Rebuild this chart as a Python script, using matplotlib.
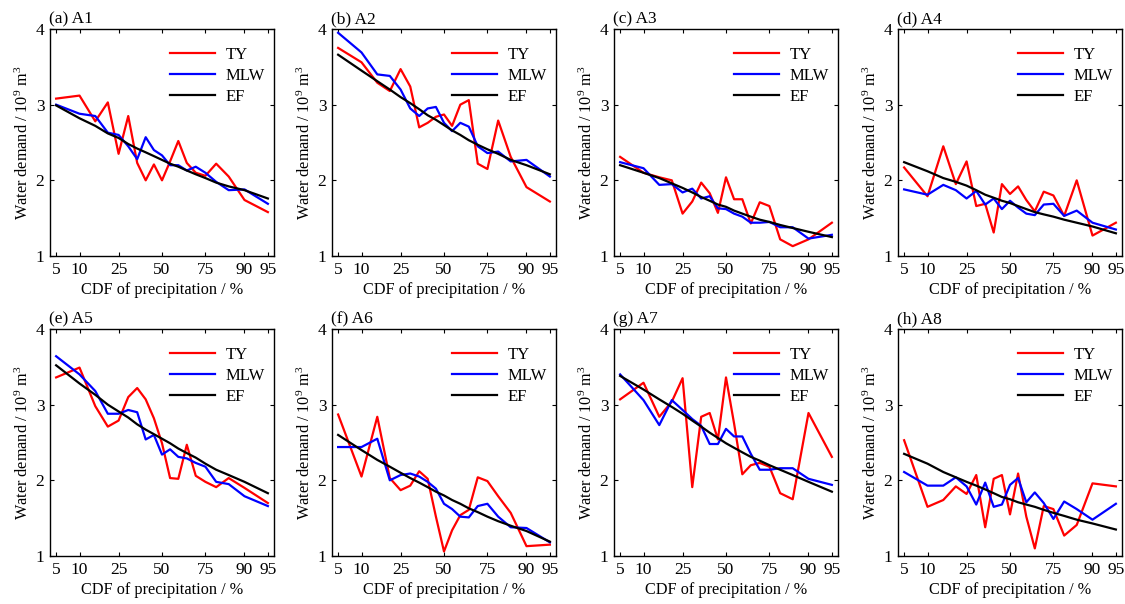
import matplotlib
matplotlib.use("Agg")
import matplotlib.pyplot as plt
import numpy as np
from statistics import NormalDist

plt.rcParams['font.family'] = ['Liberation Serif', 'DejaVu Serif']
plt.rcParams['mathtext.fontset'] = 'custom'
plt.rcParams['mathtext.rm'] = 'Liberation Serif'
plt.rcParams['mathtext.it'] = 'Liberation Serif:italic'

# CDF of precipitation (%)
cdf = [5, 10, 15, 20, 25, 30, 35, 40, 45, 50, 55, 60, 65, 70, 75, 80, 85, 90, 95]
tick_pct = [5, 10, 25, 50, 75, 90, 95]
titles = ["(a) A1", "(b) A2", "(c) A3", "(d) A4", "(e) A5", "(f) A6", "(g) A7", "(h) A8"]

ty = [
    [3.08, 3.12, 2.78, 3.03, 2.35, 2.85, 2.23, 2.00, 2.21, 2.00, 2.25, 2.52, 2.23, 2.10, 2.06, 2.22, 2.05, 1.74, 1.58],
    [3.75, 3.56, 3.29, 3.18, 3.47, 3.24, 2.70, 2.76, 2.84, 2.87, 2.72, 3.00, 3.06, 2.22, 2.15, 2.79, 2.31, 1.91, 1.72],
    [2.31, 2.10, 2.04, 2.00, 1.56, 1.72, 1.97, 1.83, 1.57, 2.04, 1.75, 1.75, 1.43, 1.71, 1.66, 1.22, 1.13, 1.22, 1.44],
    [2.17, 1.79, 2.45, 1.95, 2.25, 1.66, 1.69, 1.31, 1.95, 1.82, 1.92, 1.74, 1.59, 1.85, 1.80, 1.53, 2.00, 1.27, 1.44],
    [3.36, 3.49, 2.98, 2.71, 2.79, 3.10, 3.22, 3.07, 2.82, 2.49, 2.03, 2.02, 2.47, 2.06, 1.98, 1.91, 2.03, 1.90, 1.70],
    [2.87, 2.05, 2.84, 2.03, 1.87, 1.93, 2.12, 2.02, 1.52, 1.06, 1.34, 1.54, 1.61, 2.04, 1.99, 1.79, 1.57, 1.13, 1.15],
    [3.07, 3.29, 2.84, 3.04, 3.35, 1.91, 2.84, 2.89, 2.54, 3.36, 2.75, 2.08, 2.20, 2.23, 2.18, 1.83, 1.75, 2.89, 2.31],
    [2.53, 1.65, 1.74, 1.92, 1.82, 2.07, 1.38, 2.02, 2.07, 1.55, 2.09, 1.52, 1.10, 1.66, 1.62, 1.27, 1.41, 1.96, 1.92],
]

mlw = [
    [3.00, 2.88, 2.85, 2.63, 2.60, 2.45, 2.28, 2.57, 2.40, 2.33, 2.20, 2.20, 2.13, 2.18, 2.10, 1.98, 1.87, 1.88, 1.69],
    [3.95, 3.69, 3.40, 3.38, 3.20, 2.95, 2.85, 2.95, 2.97, 2.76, 2.65, 2.76, 2.71, 2.45, 2.36, 2.38, 2.25, 2.27, 2.05],
    [2.24, 2.16, 1.94, 1.95, 1.84, 1.89, 1.76, 1.79, 1.63, 1.62, 1.56, 1.52, 1.44, 1.44, 1.45, 1.38, 1.38, 1.23, 1.28],
    [1.88, 1.81, 1.94, 1.87, 1.76, 1.86, 1.68, 1.76, 1.62, 1.73, 1.64, 1.56, 1.54, 1.68, 1.69, 1.53, 1.60, 1.44, 1.35],
    [3.64, 3.40, 3.18, 2.88, 2.88, 2.93, 2.90, 2.54, 2.60, 2.34, 2.41, 2.31, 2.29, 2.23, 2.18, 1.98, 1.95, 1.79, 1.66],
    [2.44, 2.44, 2.55, 2.00, 2.07, 2.09, 2.05, 1.98, 1.89, 1.69, 1.62, 1.52, 1.51, 1.66, 1.69, 1.52, 1.38, 1.37, 1.18],
    [3.40, 3.06, 2.73, 3.06, 2.93, 2.81, 2.72, 2.48, 2.48, 2.68, 2.58, 2.58, 2.35, 2.14, 2.14, 2.16, 2.16, 2.02, 1.94],
    [2.11, 1.93, 1.93, 2.04, 1.92, 1.68, 1.97, 1.65, 1.68, 1.94, 2.03, 1.71, 1.84, 1.70, 1.49, 1.72, 1.62, 1.48, 1.69],
]

ef = [
    [2.99, 2.82, 2.72, 2.62, 2.56, 2.48, 2.42, 2.37, 2.32, 2.27, 2.22, 2.18, 2.13, 2.08, 2.03, 1.97, 1.92, 1.87, 1.76],
    [3.66, 3.45, 3.31, 3.20, 3.10, 3.02, 2.94, 2.86, 2.80, 2.73, 2.66, 2.60, 2.53, 2.47, 2.41, 2.35, 2.27, 2.20, 2.08],
    [2.20, 2.10, 2.03, 1.96, 1.90, 1.84, 1.78, 1.73, 1.68, 1.65, 1.60, 1.56, 1.52, 1.48, 1.45, 1.41, 1.37, 1.32, 1.25],
    [2.24, 2.12, 2.03, 1.98, 1.93, 1.87, 1.81, 1.77, 1.73, 1.70, 1.66, 1.62, 1.58, 1.55, 1.52, 1.48, 1.44, 1.39, 1.30],
    [3.52, 3.28, 3.13, 3.00, 2.91, 2.83, 2.74, 2.67, 2.61, 2.55, 2.49, 2.42, 2.36, 2.30, 2.22, 2.14, 2.07, 1.98, 1.83],
    [2.60, 2.40, 2.27, 2.18, 2.10, 2.03, 1.97, 1.91, 1.85, 1.80, 1.74, 1.69, 1.63, 1.58, 1.52, 1.46, 1.40, 1.33, 1.19],
    [3.38, 3.20, 3.07, 2.97, 2.88, 2.79, 2.71, 2.63, 2.56, 2.49, 2.43, 2.37, 2.31, 2.26, 2.20, 2.14, 2.07, 1.98, 1.85],
    [2.35, 2.22, 2.11, 2.04, 1.98, 1.93, 1.88, 1.83, 1.78, 1.75, 1.71, 1.68, 1.65, 1.61, 1.57, 1.53, 1.48, 1.43, 1.35],
]


def probit(p):
    # normal probability scale
    nd = NormalDist()
    return np.array([nd.inv_cdf(v / 100.0) for v in p])


x = probit(cdf)
xt = probit(tick_pct)

fig = plt.figure(figsize=(11.25, 6.04), dpi=100)

lefts = [50, 332, 614, 898]
tops = [29, 329]
w, h = 224, 227

for i in range(8):
    r, c = divmod(i, 4)
    ax = fig.add_axes([lefts[c] / 1125, 1 - (tops[r] + h) / 604, w / 1125, h / 604])
    ax.plot(x, ty[i], color='#ff0000', lw=1.6, label='TY')
    ax.plot(x, mlw[i], color='#0000ff', lw=1.6, label='MLW')
    ax.plot(x, ef[i], color='black', lw=1.6, label='EF')

    ax.set_xlim(-1.74, 1.74)
    ax.set_ylim(1, 4)
    ax.set_xticks(xt)
    ax.set_xticklabels([str(v) for v in tick_pct])
    ax.set_yticks([1, 2, 3, 4])
    ax.tick_params(direction='in', top=True, right=True, length=3, width=0.8,
                   labelsize=12.5, pad=4)
    for s in ax.spines.values():
        s.set_linewidth(1.0)

    ax.set_xlabel('CDF of precipitation / %', fontsize=11.7, labelpad=3)
    ax.set_ylabel('Water demand / 10$^9$ m$^3$', fontsize=11.7, labelpad=3)
    ax.set_title(titles[i], loc='left', fontsize=12.5, pad=4, x=-0.005)
    ax.legend(loc='upper right', frameon=False, fontsize=12, handlelength=2.7,
              handletextpad=0.6, labelspacing=0.3, borderaxespad=0.15,
              bbox_to_anchor=(1.0, 0.96))

fig.savefig('out.png', dpi=100)
